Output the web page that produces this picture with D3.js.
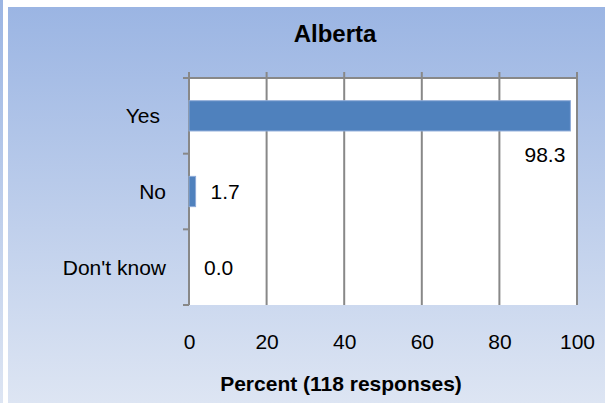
<!DOCTYPE html>
<html>
<head>
<meta charset="utf-8">
<script src="https://cdn.jsdelivr.net/npm/d3@7"></script>
<style>
  body { margin: 0; background: #fff; }
  text { font-family: "Liberation Sans", Arial, sans-serif; }
</style>
</head>
<body>
<div id="chart"></div>
<script>
const categories = ["Yes", "No", "Don't know"]
const percents = [98.3, 1.7, 0.0]
const xTicks = [0, 20, 40, 60, 80, 100]
const title = "Alberta"
const xTitle = "Percent (118 responses)"

const width = 605, height = 403
const plot = {left: 189, right: 577, top: 78, bottom: 305}
const fs = 21

const svg = d3.select("#chart").append("svg")
    .attr("width", width)
    .attr("height", height)

const grad = svg.append("defs").append("linearGradient")
    .attr("id", "bg").attr("x1", 0).attr("y1", 0).attr("x2", 0).attr("y2", 1)
grad.append("stop").attr("offset", "0%").attr("stop-color", "#9bb5e3")
grad.append("stop").attr("offset", "100%").attr("stop-color", "#dde5f3")

// left strip + panel
svg.append("rect").attr("x", 0).attr("y", 0).attr("width", 3).attr("height", height).attr("fill", "url(#bg)")
svg.append("rect").attr("x", 8).attr("y", 7).attr("width", width - 8).attr("height", height - 7).attr("fill", "url(#bg)")

const x = d3.scaleLinear().domain([0, 100]).range([plot.left, plot.right])
const y = d3.scaleBand().domain(categories)
    .range([plot.top, plot.bottom])
    .paddingInner(0.6).paddingOuter(0.3)

svg.append("rect")
    .attr("x", plot.left).attr("y", plot.top)
    .attr("width", plot.right - plot.left).attr("height", plot.bottom - plot.top)
    .attr("fill", "#fff")

// gridlines (also the tick marks above the plot)
svg.append("g").selectAll("line")
    .data(xTicks)
    .join("line")
    .attr("x1", d => x(d)).attr("x2", d => x(d))
    .attr("y1", plot.top - 6).attr("y2", plot.bottom)
    .attr("stroke", "#888").attr("stroke-width", 2)

// top axis line
svg.append("line")
    .attr("x1", plot.left - 6).attr("x2", plot.right)
    .attr("y1", plot.top).attr("y2", plot.top)
    .attr("stroke", "#888").attr("stroke-width", 2)

// category tick marks at band boundaries
const bounds = d3.range(categories.length + 1).map(i => plot.top + i * (plot.bottom - plot.top) / categories.length)
svg.append("g").selectAll("line")
    .data(bounds)
    .join("line")
    .attr("x1", plot.left - 6).attr("x2", plot.left)
    .attr("y1", d => d).attr("y2", d => d)
    .attr("stroke", "#888").attr("stroke-width", 2)

// bars
svg.append("g").selectAll("rect")
    .data(categories)
    .join("rect")
    .attr("x", x(0))
    .attr("y", d => y(d))
    .attr("width", (d, i) => x(percents[i]) - x(0))
    .attr("height", y.bandwidth())
    .attr("fill", "#4f81bd")
    .attr("stroke", "#8eabd8")
    .attr("stroke-width", (d, i) => percents[i] > 0 ? 1 : 0)

// value labels
svg.append("g").selectAll("text")
    .data(categories)
    .join("text")
    .attr("x", (d, i) => percents[i] > 90 ? x(percents[i]) - 5 : x(percents[i]) + 15)
    .attr("y", (d, i) => y(d) + y.bandwidth() / 2 + (percents[i] > 90 ? 39 : 0))
    .attr("dy", "0.35em")
    .attr("text-anchor", (d, i) => percents[i] > 90 ? "end" : "start")
    .attr("font-size", fs)
    .attr("fill", "#000")
    .text((d, i) => percents[i].toFixed(1))

// category labels
svg.append("g").selectAll("text")
    .data(categories)
    .join("text")
    .attr("x", d => d === "Yes" ? 160 : 166)
    .attr("y", d => y(d) + y.bandwidth() / 2)
    .attr("dy", "0.35em")
    .attr("text-anchor", "end")
    .attr("font-size", fs)
    .text(d => d)

// x tick labels
const xAxis = svg.append("g")
    .attr("transform", `translate(0,${plot.bottom})`)
    .call(d3.axisBottom(x).tickValues(xTicks).tickSize(0).tickPadding(29))
xAxis.select(".domain").remove()
xAxis.selectAll("text")
    .attr("font-size", fs)
    .attr("font-family", "Liberation Sans, Arial, sans-serif")
    .attr("fill", "#000")

svg.append("text")
    .attr("x", 335).attr("y", 42)
    .attr("text-anchor", "middle")
    .attr("font-size", 24).attr("font-weight", "bold")
    .text(title)

svg.append("text")
    .attr("x", 341).attr("y", 391)
    .attr("text-anchor", "middle")
    .attr("font-size", fs).attr("font-weight", "bold")
    .text(xTitle)
</script>
</body>
</html>
